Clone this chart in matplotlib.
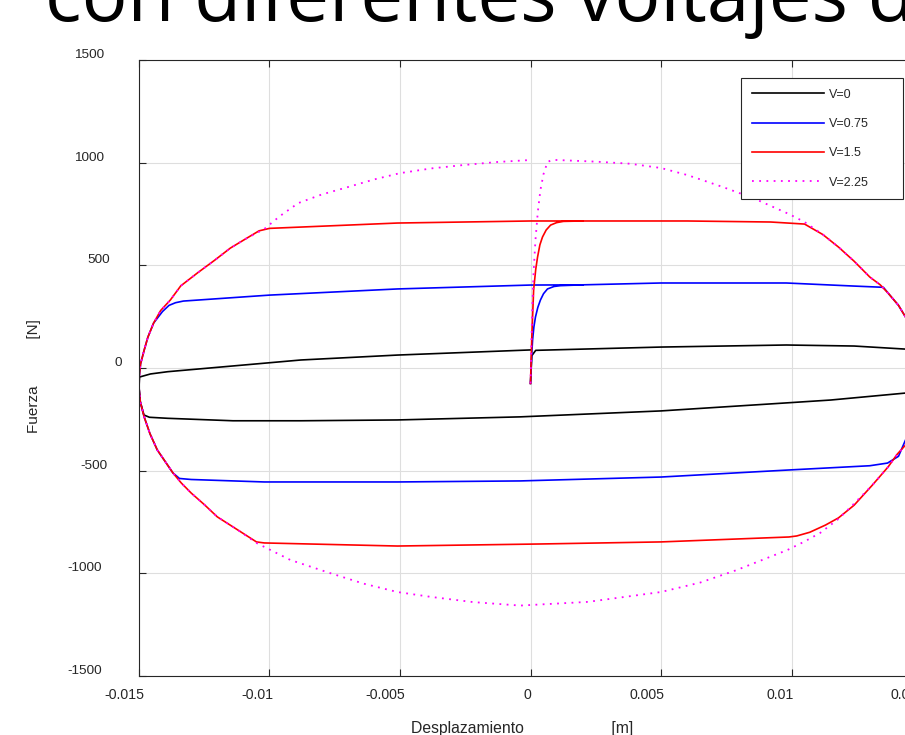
import matplotlib
matplotlib.use("Agg")
import matplotlib.pyplot as plt
from matplotlib.transforms import ScaledTranslation

# --- data (displacement in m, force in N) ---
x_v0 = [0.0, 0.00005, 0.0002, 0.0050, 0.0098, 0.0124, 0.01437, 0.0147, 0.0149, 0.0150,
        0.0149, 0.0147, 0.01437, 0.0115, 0.0098, 0.0050, -0.0004, -0.0051, -0.0088,
        -0.0114, -0.0139, -0.0146, -0.01481, -0.01495, -0.0150, -0.01498, -0.01456,
        -0.0139, -0.0088, -0.0051, 0.0]
f_v0 = [-75, 60, 86, 102, 112, 107, 92, 70, 30, -20,
        -80, -112, -122, -156, -170, -209, -238, -253, -257,
        -257, -245, -240, -229, -165, -95, -44, -29,
        -18, 39, 63, 88]

x_v075 = [0.0, 0.00004, 0.00008, 0.00013, 0.00019, 0.00028, 0.00038, 0.0005, 0.00065,
          0.0009, 0.00115, 0.0020, 0.0050, 0.0098, 0.0124, 0.01352, 0.0137, 0.0141,
          0.01437, 0.0146, 0.0148, 0.01497, 0.0150, 0.01495, 0.0148, 0.0147, 0.01437,
          0.0141, 0.01368, 0.0130, 0.00985, 0.0050, -0.0004, -0.0051, -0.0102, -0.0130,
          -0.01345, -0.0137, -0.0140, -0.0143, -0.01458, -0.0148, -0.01495, -0.0150,
          -0.01499, -0.01494, -0.0148, -0.01466, -0.01444, -0.0141, -0.01385, -0.0136,
          -0.0133, -0.0100, -0.0051, 0.0, 0.0020]
f_v075 = [-75, 50, 136, 200, 248, 295, 331, 362, 385,
          397, 401, 405, 414, 414, 399, 393, 365, 305,
          248, 170, 80, 0, -80, -150, -225, -290, -350,
          -430, -463, -476, -497, -531, -550, -555, -555, -543,
          -538, -511, -455, -399, -320, -239, -165, -95,
          -40, 20, 88, 150, 219, 275, 305, 318,
          326, 355, 385, 404, 405]

x_v15 = [0.0, 0.00005, 0.00012, 0.0002, 0.00027, 0.00036, 0.00046, 0.0006, 0.00077,
         0.0010, 0.00126, 0.0020, 0.0060, 0.0092, 0.0105, 0.0112, 0.0118, 0.0124,
         0.0130, 0.0134, 0.0137, 0.0141, 0.01437, 0.0146, 0.0148, 0.01497, 0.0150,
         0.01495, 0.0148, 0.0147, 0.01437, 0.01405, 0.0137, 0.0131, 0.0124, 0.0118,
         0.0113, 0.0107, 0.0102, 0.0099, 0.0050, 0.0004, -0.0051, -0.0102, -0.0105,
         -0.0112, -0.0120, -0.0125, -0.0130, -0.01338, -0.0137, -0.0140, -0.0143,
         -0.01458, -0.0148, -0.01495, -0.0150, -0.01499, -0.01494, -0.0148, -0.01466,
         -0.01444, -0.01417, -0.0138, -0.0134, -0.01276, -0.0121, -0.0115, -0.0109,
         -0.0104, -0.0100, -0.0051, 0.0, 0.0020]
f_v15 = [-75, 150, 380, 480, 540, 600, 638, 672, 696,
         708, 714, 716, 716, 711, 701, 650, 589, 520,
         443, 405, 365, 305, 248, 170, 80, 0, -80,
         -150, -230, -290, -375, -420, -482, -570, -668, -730,
         -765, -800, -818, -823, -847, -857, -867, -852, -847,
         -790, -725, -665, -609, -560, -511, -455, -399,
         -320, -239, -165, -95, -40, 20, 88, 150,
         219, 280, 331, 400, 463, 525, 584, 630,
         668, 680, 706, 716, 716]

x_v225 = [0.0, 0.00003, 0.00007, 0.00012, 0.00019, 0.00028, 0.00038, 0.0005, 0.00065,
          0.0008, 0.0010, 0.0025, 0.0038, 0.0050, 0.0060, 0.0068, 0.0074, 0.0080,
          0.0087, 0.0093, 0.0099, 0.0105, 0.0112, 0.0118, 0.0124, 0.0130, 0.0134,
          0.0137, 0.0141, 0.01437, 0.0146, 0.0148, 0.01497, 0.0150, 0.01495, 0.0148,
          0.0147, 0.01437, 0.01405, 0.0137, 0.0131, 0.0124, 0.0118, 0.0111, 0.0105,
          0.00985, 0.0079, 0.0065, 0.0050, 0.0022, -0.0004, -0.0022, -0.0038, -0.0051,
          -0.0064, -0.0077, -0.0092, -0.0105, -0.0112, -0.0120, -0.0125, -0.0130,
          -0.01338, -0.0137, -0.0140, -0.0143, -0.01458, -0.0148, -0.01495, -0.0150,
          -0.01499, -0.01494, -0.0148, -0.01466, -0.01444, -0.01417, -0.0138, -0.0134,
          -0.01276, -0.0121, -0.0115, -0.0109, -0.0102, -0.0096, -0.0089, -0.0080,
          -0.0070, -0.0060, -0.0050, -0.0038, -0.0026, -0.0013, 0.0]
f_v225 = [-75, 100, 297, 470, 623, 760, 867, 945, 1003,
          1012, 1013, 1005, 995, 974, 940, 906, 880, 852,
          818, 784, 750, 711, 650, 589, 520, 443, 405,
          365, 305, 248, 170, 80, 0, -80, -150, -230,
          -290, -375, -420, -482, -570, -660, -735, -803, -845,
          -886, -984, -1045, -1091, -1139, -1157, -1140, -1115, -1091,
          -1050, -998, -935, -852, -790, -725, -665, -609,
          -560, -511, -455, -399, -320, -239, -165, -95,
          -40, 20, 88, 150, 219, 280, 331, 400,
          463, 525, 584, 630, 677, 740, 803, 845,
          881, 918, 949, 972, 988, 1003, 1013]

series_labels = ["V=0", "V=0.75", "V=1.5", "V=2.25"]
x_ticks = [-0.015, -0.01, -0.005, 0, 0.005, 0.01, 0.015]
x_tick_labels = ["-0.015", "-0.01", "-0.005", "0", "0.005", "0.01", "0.015"]
y_ticks = [-1500, -1000, -500, 0, 500, 1000, 1500]
y_tick_labels = ["-1500", "-1000", "-500", "0", "500", "1000", "1500"]

plt.rcParams['font.family'] = ['Liberation Sans', 'DejaVu Sans']
label_color = '#262626'

fig = plt.figure(figsize=(9.05, 7.35), dpi=100)
ax = fig.add_axes([139 / 905, 59 / 735, 783 / 905, 616 / 735])

lw = 1.2
ax.plot(x_v0, f_v0, color='black', lw=lw, label=series_labels[0])
ax.plot(x_v075, f_v075, color='#0000ff', lw=lw, label=series_labels[1])
ax.plot(x_v15, f_v15, color='#ff0000', lw=lw, label=series_labels[2])
ax.plot(x_v225, f_v225, color='#ff00ff', lw=1.3, linestyle=(0, (1, 3)),
        label=series_labels[3])

ax.set_xlim(-0.015, 0.015)
ax.set_ylim(-1500, 1500)
ax.set_xticks(x_ticks)
ax.set_yticks(y_ticks)
ax.grid(True, color='#dedede', lw=0.8)
ax.set_axisbelow(True)
ax.tick_params(direction='in', length=5, width=0.8, colors=label_color,
               top=True, right=True, labelbottom=False, labelleft=False)
for sp in ax.spines.values():
    sp.set_color(label_color)
    sp.set_linewidth(0.8)


def wide_width(s):
    # the exported labels were laid out with a wider font than they show in
    return sum(13.5 if c.isdigit() else 9 if c == '.' else 7 for c in s)


px = fig.dpi_scale_trans
for v, s in zip(x_ticks, x_tick_labels):
    off = ScaledTranslation(-wide_width(s) / 2 / 100, -12 / 100, px)
    ax.text(v, 0, s, transform=ax.get_xaxis_transform() + off, ha='left', va='top',
            fontsize=10.2, color=label_color, clip_on=False)
for v, s in zip(y_ticks, y_tick_labels):
    off = ScaledTranslation((-11 - wide_width(s)) / 100, 5 / 100, px)
    ax.text(0, v, s, transform=ax.get_yaxis_transform() + off, ha='left', va='center',
            fontsize=9.7, color=label_color, clip_on=False)

ax.set_xlabel("Desplazamiento" + " " * 20 + "[m]", fontsize=11.3, color=label_color,
              va='baseline')
ax.xaxis.set_label_coords(0.489, -0.0925)
ax.set_ylabel("Fuerza" + " " * 11 + "[N]", fontsize=11, color=label_color,
              va='center', ha='center')
ax.yaxis.set_label_coords(-0.134, 0.487)

leg = ax.legend(loc='upper left', bbox_to_anchor=(0.7688, 0.5, 0.2069, 0.4708),
                mode='expand', borderaxespad=0, fontsize=9, handlelength=5.8,
                handletextpad=0.4, labelspacing=1.39, borderpad=0.85,
                fancybox=False, framealpha=1)
leg.get_frame().set_edgecolor(label_color)
leg.get_frame().set_linewidth(0.8)
for t in leg.get_texts():
    t.set_color(label_color)

fig.text(45 / 905, 1 - 21 / 735, "con diferentes voltajes d", fontsize=55,
         family=['Open Sans', 'DejaVu Sans'], va='baseline', color='black')

fig.savefig("out.png", dpi=100)
